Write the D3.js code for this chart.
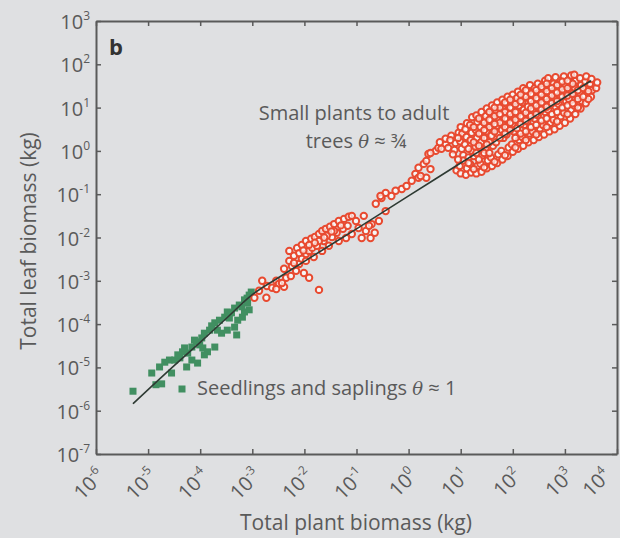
<!DOCTYPE html>
<html><head><meta charset="utf-8">
<script src="https://cdn.jsdelivr.net/npm/d3@7"></script>
<style>
html,body{margin:0;padding:0;background:#dfe0e2;}
svg{display:block;font-family:"Open Sans",Lato,sans-serif;}
</style>
</head><body>
<svg id="chart" width="620" height="538"></svg>
<script>
// ---- data (log10 values) ----
const xTickExps = [-6,-5,-4,-3,-2,-1,0,1,2,3,4];
const yTickExps = [-7,-6,-5,-4,-3,-2,-1,0,1,2,3];

// Seedlings and saplings: [log10 plant biomass, log10 leaf biomass]
const seedlings = [
 [-5.29,-5.55],[-4.93,-5.13],[-4.78,-4.99],[-4.74,-5.38],[-4.85,-5.40],[-4.59,-4.83],[-4.55,-5.13],
 [-4.49,-4.83],[-4.39,-4.78],[-4.34,-4.64],[-4.24,-4.67],[-4.16,-4.83],[-4.26,-4.99],[-4.16,-4.53],
 [-4.07,-4.41],[-3.97,-4.32],[-3.92,-4.21],[-3.82,-4.14],[-3.95,-4.55],[-3.86,-4.64],[-3.72,-3.97],
 [-3.63,-3.91],[-3.53,-3.84],[-3.48,-3.72],[-3.34,-3.63],[-3.25,-3.56],[-3.15,-3.44],[-3.06,-3.33],
 [-3.02,-3.26],[-3.59,-4.21],[-3.48,-4.14],[-3.34,-4.07],[-3.28,-3.91],[-3.19,-3.84],[-3.72,-4.53],
 [-3.30,-4.25],[-4.68,-4.88],[-4.43,-4.71],[-4.30,-4.55],[-4.11,-4.37],[-4.01,-4.48],[-3.78,-4.04],
 [-3.67,-4.14],[-3.44,-3.86],[-3.40,-3.74],[-3.09,-3.51],[-3.06,-3.67],[-3.15,-3.72],[-3.92,-4.71],
 [-4.05,-4.90],[-3.10,-3.40],[-3.20,-3.60]
];

// Small plants to adult trees: [log10 plant biomass, log10 leaf biomass]
const adults = [
 [-2.96,-3.39],[-2.87,-3.23],[-2.73,-3.39],[-2.72,-3.12],[-2.62,-3.16],[-2.54,-3.00],[-2.49,-3.07],
 [-2.39,-3.14],[-2.35,-2.93],[-2.26,-2.89],[-2.16,-2.77],[-2.24,-2.66],[-2.10,-2.61],[-2.05,-2.49],
 [-1.97,-2.38],[-1.91,-2.31],[-1.85,-2.24],[-1.91,-2.93],[-1.72,-3.21],[-2.81,-3.00],[-2.43,-3.05],
 [-2.54,-3.19],[-2.01,-2.82],[-2.29,-2.54],[-2.20,-2.42],
 [-2.29,-2.31],[-2.14,-2.24],[-2.05,-2.17],[-1.97,-2.08],[-1.87,-2.03],[-1.80,-1.99],[-1.72,-1.92],
 [-1.66,-1.85],[-1.59,-1.80],[-1.51,-1.75],[-1.43,-1.69],[-1.34,-1.62],[-1.24,-1.57],[-1.15,-1.52],
 [-1.09,-1.50],[-1.97,-2.54],[-1.82,-2.45],[-1.66,-2.31],[-1.53,-2.19],[-1.34,-2.08],[-1.20,-2.01],
 [-1.09,-1.92],[-1.76,-2.19],[-1.63,-2.08],[-1.47,-1.99],[-1.38,-1.89],[-1.26,-1.80],[-1.17,-1.73],
 [-1.72,-2.08],[-1.57,-1.96],[-1.43,-1.85],[-1.91,-2.17],[-2.10,-2.36],[-2.20,-2.59],[-2.39,-2.72],
 [-1.80,-2.12],[-1.62,-2.00],[-1.48,-1.86],[-1.30,-1.72],[-2.02,-2.30],
 [-0.96,-1.78],[-0.82,-1.85],[-0.71,-1.69],[-0.90,-2.01],[-0.73,-2.01],[-0.57,-1.62],[-0.63,-1.22],
 [-0.52,-1.09],[-0.44,-1.39],[-1.01,-1.62],[-0.86,-1.50],[-0.76,-1.73],[-0.65,-1.89],
 [-0.44,-0.97],[-0.25,-0.92],[-0.13,-0.88],[-0.04,-0.81],[0.06,-0.69],[0.13,-0.53],[0.19,-0.39],
 [0.29,-0.30],[0.34,-0.23],[0.38,-0.07],[0.52,0.00],[0.57,0.07],[0.71,0.16],[0.19,-0.62],[0.34,-0.62],
 [0.42,-0.42],[-0.33,-1.04],[-0.54,-1.04],[0.23,-0.58],[0.42,-0.05],[0.63,0.05],[0.76,0.07],[0.71,0.28],
 [0.82,0.35],[0.90,0.18],[0.96,0.42],[0.88,0.02],[0.92,-0.45],[0.60,0.20],[0.80,0.25],
 [1.00,-0.52],[0.98,-0.35],[1.02,0.05],[0.99,0.22],[1.03,0.40],[1.00,0.55],
 [1.10,-0.55],[1.12,-0.40],[1.08,0.15],[1.11,0.32],[1.09,0.50],[1.12,0.64],
 [1.20,-0.50],[1.18,-0.30],[1.22,0.00],[1.19,0.25],[1.21,0.42],[1.18,0.60],[1.22,0.78],
 [1.30,-0.52],[1.32,-0.35],[1.28,0.10],[1.31,0.30],[1.29,0.48],[1.32,0.66],[1.30,0.82],
 [1.40,-0.48],[1.38,-0.30],[1.42,-0.10],[1.39,0.20],[1.41,0.38],[1.38,0.55],[1.42,0.72],[1.40,0.90],
 [1.50,-0.40],[1.52,-0.22],[1.48,0.05],[1.51,0.28],[1.49,0.45],[1.52,0.62],[1.48,0.80],[1.50,0.98],
 [1.60,-0.35],[1.58,-0.15],[1.62,0.12],[1.59,0.35],[1.61,0.52],[1.58,0.70],[1.62,0.88],[1.60,1.05],
 [1.70,-0.28],[1.72,-0.08],[1.68,0.20],[1.71,0.40],[1.69,0.58],[1.72,0.75],[1.68,0.92],[1.70,1.12],
 [1.80,-0.20],[1.78,0.00],[1.82,0.30],[1.79,0.48],[1.81,0.65],[1.78,0.82],[1.82,1.00],[1.80,1.18],
 [1.90,-0.12],[1.92,0.08],[1.88,0.38],[1.91,0.55],[1.89,0.72],[1.92,0.90],[1.88,1.08],[1.90,1.25],
 [2.00,-0.02],[1.98,0.15],[2.02,0.45],[1.99,0.62],[2.01,0.80],[1.98,0.98],[2.02,1.15],[2.00,1.30],
 [2.10,0.05],[2.12,0.25],[2.08,0.52],[2.11,0.70],[2.09,0.88],[2.12,1.05],[2.08,1.22],[2.10,1.37],
 [2.20,0.12],[2.18,0.32],[2.22,0.60],[2.19,0.78],[2.21,0.95],[2.18,1.12],[2.22,1.30],[2.20,1.45],
 [2.30,0.20],[2.32,0.40],[2.28,0.68],[2.31,0.85],[2.29,1.02],[2.32,1.20],[2.28,1.38],[2.33,1.52],
 [2.40,0.25],[2.38,0.45],[2.42,0.75],[2.39,0.92],[2.41,1.10],[2.38,1.28],[2.42,1.45],
 [2.50,0.32],[2.52,0.52],[2.48,0.82],[2.51,1.00],[2.49,1.18],[2.52,1.35],[2.48,1.55],
 [2.60,0.38],[2.58,0.60],[2.62,0.90],[2.59,1.08],[2.61,1.25],[2.58,1.42],[2.62,1.62],
 [2.70,0.45],[2.72,0.65],[2.68,0.95],[2.71,1.15],[2.69,1.32],[2.72,1.50],[2.68,1.68],
 [2.80,0.50],[2.78,0.72],[2.82,1.02],[2.79,1.20],[2.81,1.38],[2.78,1.55],[2.82,1.70],
 [2.90,0.58],[2.92,0.80],[2.88,1.08],[2.91,1.28],[2.89,1.45],[2.92,1.62],
 [3.00,0.65],[2.98,0.88],[3.02,1.15],[2.99,1.35],[3.01,1.52],[2.98,1.72],
 [3.10,0.75],[3.12,0.95],[3.08,1.20],[3.11,1.40],[3.09,1.58],[3.12,1.74],
 [3.20,0.85],[3.18,1.05],[3.22,1.28],[3.19,1.45],[3.21,1.62],[3.18,1.76],
 [3.30,0.98],[3.32,1.15],[3.28,1.35],[3.31,1.52],[3.29,1.68],
 [3.40,1.10],[3.38,1.28],[3.42,1.45],[3.39,1.60],[3.41,1.72],
 [3.50,1.25],[3.52,1.40],[3.48,1.55],[3.51,1.66],
 [3.60,1.45],[3.62,1.58],
 [1.25,0.55],[1.35,0.40],[1.45,0.30],[1.45,0.65],[1.55,0.55],[1.55,0.90],[1.65,0.45],[1.65,0.80],
 [1.75,0.65],[1.75,1.00],[1.85,0.55],[1.85,0.90],[1.95,0.65],[1.95,1.00],[2.05,0.72],[2.05,1.08],
 [2.15,0.80],[2.15,1.15],[2.25,0.88],[2.25,1.25],[2.35,0.98],[2.35,1.32],[2.45,1.05],[2.45,1.40],
 [2.55,1.12],[2.55,1.48],[2.65,1.20],[2.65,1.55],[2.75,1.28],[2.85,1.35],[2.95,1.42],[3.05,1.45],
 [3.15,1.55],[1.25,-0.42],[1.45,-0.38],[1.65,-0.25],[1.85,-0.10],[2.05,0.08],[2.25,0.25],[2.45,0.38],
 [2.65,0.55],[2.85,0.68],[3.05,0.85],[3.25,1.00],[3.45,1.20],
 [1.15,0.05],[1.25,0.20],[1.35,0.12],[1.35,0.75],[1.45,0.48],[1.55,0.20],[1.55,0.72],[1.65,0.62],
 [1.65,1.00],[1.75,0.30],[1.75,0.85],[1.85,0.40],[1.85,0.75],[1.85,1.12],[1.95,0.48],[1.95,0.85],
 [1.95,1.18],[2.05,0.30],[2.05,0.90],[2.15,0.40],[2.15,0.62],[2.15,1.30],[2.25,0.45],[2.25,0.70],
 [2.25,1.40],[2.35,0.55],[2.35,0.80],[2.35,1.15],[2.45,0.60],[2.45,0.85],[2.45,1.22],[2.55,0.70],
 [2.55,0.95],[2.55,1.30],[2.65,0.75],[2.65,1.02],[2.65,1.38],[2.75,0.85],[2.75,1.10],[2.75,1.45],
 [2.85,0.90],[2.85,1.15],[2.85,1.52],[2.95,1.00],[2.95,1.25],[2.95,1.60],[3.05,1.05],[3.05,1.28],
 [3.05,1.62],[3.15,1.10],[3.15,1.32],[3.25,1.20],[3.25,1.40],[3.35,1.25],[3.35,1.45],[3.45,1.38],
 [1.05,-0.10],[1.05,-0.22],[1.15,-0.15],[1.15,-0.28],[1.25,-0.12],[1.30,-0.05],[1.35,-0.20],
 [1.45,-0.05],[1.50,0.15],[1.55,-0.05],[0.95,-0.20],[0.85,-0.08],[0.95,0.30]
];

// Fitted curve (log10 values)
const fitLogX = [-5.29,-4.5,-4.0,-3.5,-3.0,-2.5,-2.0,-1.0,0,1,2,3,3.5];
const fitLogY = [-5.84,-4.96,-4.42,-3.87,-3.32,-2.93,-2.55,-1.80,-1.04,-0.28,0.48,1.24,1.62];

// ---- drawing ----
const W = 620, H = 538;
const ink = "#5a5a5a";
const svg = d3.select("#chart");
svg.append("rect").attr("width", W).attr("height", H).attr("fill", "#dfe0e2");

const x = d3.scaleLog().domain([1e-6, 1e4]).range([96, 617]);
const y = d3.scaleLog().domain([1e-7, 1e3]).range([454, 21]);

const xt = xTickExps.map(e => Math.pow(10, e));
const yt = yTickExps.map(e => Math.pow(10, e));

function styleAxis(g) {
  g.select(".domain").attr("stroke", ink).attr("stroke-width", 2);
  g.selectAll(".tick line").attr("stroke", ink).attr("stroke-width", 1.5);
  g.selectAll(".tick text").remove();
}
svg.append("g").attr("transform", "translate(0,454)")
  .call(d3.axisBottom(x).tickValues(xt).tickSize(-5).tickSizeOuter(0).tickFormat("")).call(styleAxis);
svg.append("g").attr("transform", "translate(0,21)")
  .call(d3.axisTop(x).tickValues(xt).tickSize(-5).tickSizeOuter(0).tickFormat("")).call(styleAxis);
svg.append("g").attr("transform", "translate(96,0)")
  .call(d3.axisLeft(y).tickValues(yt).tickSize(-5).tickSizeOuter(0).tickFormat("")).call(styleAxis);
svg.append("g").attr("transform", "translate(617,0)")
  .call(d3.axisRight(y).tickValues(yt).tickSize(-5).tickSizeOuter(0).tickFormat("")).call(styleAxis);

function powLabel(t, e) {
  t.append("tspan").text("10");
  t.append("tspan").attr("font-size", "12px").attr("dy", "-9").text(String(e));
}
// y tick labels
svg.append("g").selectAll("text").data(yTickExps).join("text")
  .attr("x", 90).attr("y", e => y(Math.pow(10, e)) + 8)
  .attr("text-anchor", "end").attr("font-size", "20px").attr("fill", ink)
  .each(function(e){ powLabel(d3.select(this), e); });
// x tick labels
svg.append("g").selectAll("text").data(xTickExps).join("text")
  .attr("transform", e => `translate(${Math.min(x(Math.pow(10, e)) + 10, 612)},477) rotate(-45)`)
  .attr("text-anchor", "end").attr("font-size", "20px").attr("fill", ink)
  .each(function(e){ powLabel(d3.select(this), e); });

// axis titles
svg.append("text").attr("x", 356).attr("y", 530).attr("text-anchor", "middle")
  .attr("font-size", "21px").attr("fill", ink).text("Total plant biomass (kg)");
svg.append("text").attr("transform", "translate(36,241) rotate(-90)").attr("text-anchor", "middle")
  .attr("font-size", "21px").attr("fill", ink).text("Total leaf biomass (kg)");

// panel letter
svg.append("text").attr("x", 109).attr("y", 55).attr("font-size", "22px").attr("font-weight", "bold")
  .attr("fill", "#333").text("b");

// points
const sq = 7;
svg.append("g").selectAll("rect").data(seedlings).join("rect")
  .attr("x", d => x(Math.pow(10, d[0])) - sq/2).attr("y", d => y(Math.pow(10, d[1])) - sq/2)
  .attr("width", sq).attr("height", sq).attr("fill", "#418f61");

svg.append("g").selectAll("circle").data(adults).join("circle")
  .attr("cx", d => x(Math.pow(10, d[0]))).attr("cy", d => y(Math.pow(10, d[1])))
  .attr("r", 3.2).attr("fill", "#ffffff").attr("fill-opacity", 0.7)
  .attr("stroke", "#e84a30").attr("stroke-width", 2);

// fitted line
const fit = fitLogX.map((v, i) => [Math.pow(10, v), Math.pow(10, fitLogY[i])]);
svg.append("path").datum(fit)
  .attr("d", d3.line().x(d => x(d[0])).y(d => y(d[1])).curve(d3.curveMonotoneX))
  .attr("fill", "none").attr("stroke", "#2e3a33").attr("stroke-width", 1.6);

// annotations
svg.append("text").attr("x", 354).attr("y", 120).attr("text-anchor", "middle")
  .attr("font-size", "20px").attr("fill", ink).text("Small plants to adult");
const t2 = svg.append("text").attr("x", 356).attr("y", 148).attr("text-anchor", "middle")
  .attr("font-size", "20px").attr("fill", ink);
t2.append("tspan").text("trees ");
t2.append("tspan").attr("font-style", "italic").attr("font-family", "DejaVu Serif, serif").attr("font-size", "18px").text("θ");
t2.append("tspan").text(" ≈ ¾");

svg.append("rect").attr("x", 182 - sq/2).attr("y", 389 - sq/2).attr("width", sq).attr("height", sq).attr("fill", "#418f61");
const t3 = svg.append("text").attr("x", 197).attr("y", 395)
  .attr("font-size", "20px").attr("fill", ink);
t3.append("tspan").text("Seedlings and saplings ");
t3.append("tspan").attr("font-style", "italic").attr("font-family", "DejaVu Serif, serif").attr("font-size", "18px").text("θ");
t3.append("tspan").text(" ≈ 1");
</script>
</body></html>
